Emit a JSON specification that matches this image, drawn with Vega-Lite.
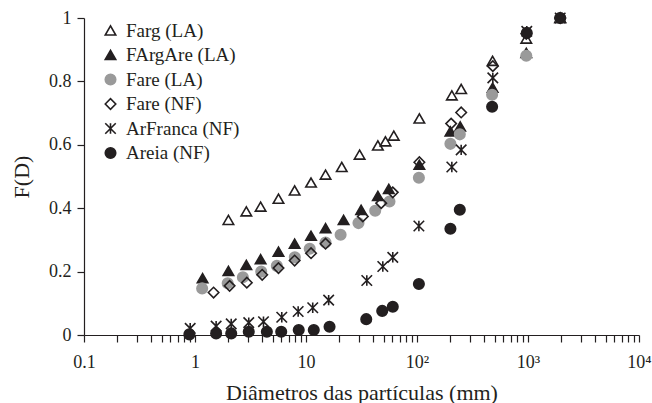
{
  "$schema": "https://vega.github.io/schema/vega-lite/v6.json",
  "autosize": "none",
  "width": 555,
  "height": 317,
  "padding": {"left": 84, "top": 18, "right": 13, "bottom": 68},
  "background": "white",
  "config": {
    "view": {"stroke": null},
    "font": "Liberation Serif",
    "axis": {"labelFont": "Liberation Serif", "titleFont": "Liberation Serif", "labelColor": "#231f20", "titleColor": "#231f20", "domainColor": "#231f20", "tickColor": "#231f20", "grid": false, "labelFontSize": 18, "titleFontSize": 22, "titleFontWeight": "normal", "tickSize": 7, "domainWidth": 1.2, "tickWidth": 1.2}
  },
  "data": {
    "values": [
      {"serie": "Farg (LA)", "d": 2.0, "f": 0.363},
      {"serie": "Farg (LA)", "d": 2.9, "f": 0.39},
      {"serie": "Farg (LA)", "d": 3.9, "f": 0.405},
      {"serie": "Farg (LA)", "d": 5.65, "f": 0.43},
      {"serie": "Farg (LA)", "d": 7.9, "f": 0.456},
      {"serie": "Farg (LA)", "d": 11.1, "f": 0.481},
      {"serie": "Farg (LA)", "d": 15.0, "f": 0.506},
      {"serie": "Farg (LA)", "d": 21.0, "f": 0.53},
      {"serie": "Farg (LA)", "d": 30.4, "f": 0.569},
      {"serie": "Farg (LA)", "d": 44.4, "f": 0.598},
      {"serie": "Farg (LA)", "d": 52.0, "f": 0.611},
      {"serie": "Farg (LA)", "d": 61.8, "f": 0.629},
      {"serie": "Farg (LA)", "d": 105, "f": 0.683},
      {"serie": "Farg (LA)", "d": 206, "f": 0.756},
      {"serie": "Farg (LA)", "d": 250, "f": 0.776},
      {"serie": "Farg (LA)", "d": 480, "f": 0.865},
      {"serie": "Farg (LA)", "d": 965, "f": 0.935},
      {"serie": "Farg (LA)", "d": 1950, "f": 1.0},
      {"serie": "FArgAre (LA)", "d": 1.17, "f": 0.179},
      {"serie": "FArgAre (LA)", "d": 2.0, "f": 0.202},
      {"serie": "FArgAre (LA)", "d": 2.9, "f": 0.221},
      {"serie": "FArgAre (LA)", "d": 3.9, "f": 0.239},
      {"serie": "FArgAre (LA)", "d": 5.65, "f": 0.263},
      {"serie": "FArgAre (LA)", "d": 7.9, "f": 0.288},
      {"serie": "FArgAre (LA)", "d": 11.1, "f": 0.313},
      {"serie": "FArgAre (LA)", "d": 15.0, "f": 0.337},
      {"serie": "FArgAre (LA)", "d": 21.8, "f": 0.363},
      {"serie": "FArgAre (LA)", "d": 31.4, "f": 0.395},
      {"serie": "FArgAre (LA)", "d": 44.4, "f": 0.439},
      {"serie": "FArgAre (LA)", "d": 55.7, "f": 0.461},
      {"serie": "FArgAre (LA)", "d": 105, "f": 0.537},
      {"serie": "FArgAre (LA)", "d": 200, "f": 0.642},
      {"serie": "FArgAre (LA)", "d": 245, "f": 0.658},
      {"serie": "FArgAre (LA)", "d": 480, "f": 0.78},
      {"serie": "FArgAre (LA)", "d": 965, "f": 0.89},
      {"serie": "FArgAre (LA)", "d": 1950, "f": 1.0},
      {"serie": "Fare (LA)", "d": 1.16, "f": 0.147},
      {"serie": "Fare (LA)", "d": 1.97, "f": 0.163},
      {"serie": "Fare (LA)", "d": 2.7, "f": 0.182},
      {"serie": "Fare (LA)", "d": 3.95, "f": 0.2},
      {"serie": "Fare (LA)", "d": 5.46, "f": 0.218},
      {"serie": "Fare (LA)", "d": 7.93, "f": 0.245},
      {"serie": "Fare (LA)", "d": 10.8, "f": 0.272},
      {"serie": "Fare (LA)", "d": 15.0, "f": 0.292},
      {"serie": "Fare (LA)", "d": 20.5, "f": 0.316},
      {"serie": "Fare (LA)", "d": 29.7, "f": 0.353},
      {"serie": "Fare (LA)", "d": 42.0, "f": 0.392},
      {"serie": "Fare (LA)", "d": 56.5, "f": 0.421},
      {"serie": "Fare (LA)", "d": 104, "f": 0.496},
      {"serie": "Fare (LA)", "d": 200, "f": 0.603},
      {"serie": "Fare (LA)", "d": 243, "f": 0.633},
      {"serie": "Fare (LA)", "d": 475, "f": 0.758},
      {"serie": "Fare (LA)", "d": 965, "f": 0.881},
      {"serie": "Fare (LA)", "d": 1950, "f": 1.0},
      {"serie": "Fare (NF)", "d": 1.47, "f": 0.134},
      {"serie": "Fare (NF)", "d": 2.05, "f": 0.155},
      {"serie": "Fare (NF)", "d": 2.93, "f": 0.165},
      {"serie": "Fare (NF)", "d": 4.03, "f": 0.19},
      {"serie": "Fare (NF)", "d": 5.65, "f": 0.211},
      {"serie": "Fare (NF)", "d": 7.9, "f": 0.235},
      {"serie": "Fare (NF)", "d": 11.1, "f": 0.258},
      {"serie": "Fare (NF)", "d": 15.0, "f": 0.288},
      {"serie": "Fare (NF)", "d": 32.5, "f": 0.374},
      {"serie": "Fare (NF)", "d": 47.6, "f": 0.416},
      {"serie": "Fare (NF)", "d": 60.5, "f": 0.45},
      {"serie": "Fare (NF)", "d": 105, "f": 0.545},
      {"serie": "Fare (NF)", "d": 203, "f": 0.667},
      {"serie": "Fare (NF)", "d": 250, "f": 0.702},
      {"serie": "Fare (NF)", "d": 482, "f": 0.848},
      {"serie": "Fare (NF)", "d": 965, "f": 0.95},
      {"serie": "Fare (NF)", "d": 1950, "f": 1.0},
      {"serie": "ArFranca (NF)", "d": 0.905, "f": 0.021},
      {"serie": "ArFranca (NF)", "d": 1.55, "f": 0.028},
      {"serie": "ArFranca (NF)", "d": 2.12, "f": 0.035},
      {"serie": "ArFranca (NF)", "d": 3.05, "f": 0.039},
      {"serie": "ArFranca (NF)", "d": 4.14, "f": 0.042},
      {"serie": "ArFranca (NF)", "d": 6.05, "f": 0.056},
      {"serie": "ArFranca (NF)", "d": 8.5, "f": 0.074},
      {"serie": "ArFranca (NF)", "d": 11.5, "f": 0.086},
      {"serie": "ArFranca (NF)", "d": 16.0, "f": 0.11},
      {"serie": "ArFranca (NF)", "d": 35.3, "f": 0.172},
      {"serie": "ArFranca (NF)", "d": 49.2, "f": 0.216},
      {"serie": "ArFranca (NF)", "d": 60.5, "f": 0.245},
      {"serie": "ArFranca (NF)", "d": 104, "f": 0.344},
      {"serie": "ArFranca (NF)", "d": 206, "f": 0.53},
      {"serie": "ArFranca (NF)", "d": 250, "f": 0.584},
      {"serie": "ArFranca (NF)", "d": 482, "f": 0.811},
      {"serie": "ArFranca (NF)", "d": 975, "f": 0.958},
      {"serie": "ArFranca (NF)", "d": 1950, "f": 1.0},
      {"serie": "Areia (NF)", "d": 0.89, "f": 0.002},
      {"serie": "Areia (NF)", "d": 1.55, "f": 0.005},
      {"serie": "Areia (NF)", "d": 2.12, "f": 0.005},
      {"serie": "Areia (NF)", "d": 3.05, "f": 0.01},
      {"serie": "Areia (NF)", "d": 4.44, "f": 0.01},
      {"serie": "Areia (NF)", "d": 5.98, "f": 0.01},
      {"serie": "Areia (NF)", "d": 8.6, "f": 0.016},
      {"serie": "Areia (NF)", "d": 11.75, "f": 0.016},
      {"serie": "Areia (NF)", "d": 16.3, "f": 0.026},
      {"serie": "Areia (NF)", "d": 34.9, "f": 0.05},
      {"serie": "Areia (NF)", "d": 48.6, "f": 0.076},
      {"serie": "Areia (NF)", "d": 60.5, "f": 0.089},
      {"serie": "Areia (NF)", "d": 104, "f": 0.161},
      {"serie": "Areia (NF)", "d": 200, "f": 0.335},
      {"serie": "Areia (NF)", "d": 243, "f": 0.395},
      {"serie": "Areia (NF)", "d": 475, "f": 0.72},
      {"serie": "Areia (NF)", "d": 975, "f": 0.953},
      {"serie": "Areia (NF)", "d": 1950, "f": 1.0}
    ]
  },
  "mark": {"type": "point", "size": 110, "strokeWidth": 1.6, "opacity": 1},
  "encoding": {
    "x": {
      "field": "d", "type": "quantitative",
      "scale": {"type": "log", "domain": [0.1, 10000], "nice": false},
      "axis": {
        "title": "Diâmetros das partículas (mm)",
        "values": [0.1,0.2,0.3,0.4,0.5,0.6,0.7,0.8,0.9,1,2,3,4,5,6,7,8,9,10,20,30,40,50,60,70,80,90,100,200,300,400,500,600,700,800,900,1000,2000,3000,4000,5000,6000,7000,8000,9000,10000],
        "labelExpr": "datum.value == 0.1 ? '0.1' : datum.value == 1 ? '1' : datum.value == 10 ? '10' : datum.value == 100 ? '10²' : datum.value == 1000 ? '10³' : datum.value == 10000 ? '10⁴' : ''",
        "labelOverlap": false,
        "labelBound": false,
        "labelFlush": false,
        "labelBaseline": "alphabetic",
        "labelPadding": 25,
        "titleBaseline": "alphabetic",
        "titleY": 64
      }
    },
    "y": {
      "field": "f", "type": "quantitative",
      "scale": {"domain": [0, 1], "nice": false},
      "axis": {
        "title": "F(D)",
        "values": [0, 0.2, 0.4, 0.6, 0.8, 1],
        "format": "~g",
        "labelPadding": 6,
        "titleBaseline": "alphabetic",
        "titleX": -56,
        "titleY": 158.5,
        "titleAngle": -90
      }
    },
    "shape": {
      "field": "serie", "type": "nominal",
      "scale": {
        "domain": ["Farg (LA)", "FArgAre (LA)", "Fare (LA)", "Fare (NF)", "ArFranca (NF)", "Areia (NF)"],
        "range": ["triangle-up", "triangle-up", "circle", "diamond", "M-1,-1L1,1M1,-1L-1,1M0,-1L0,1", "circle"]
      },
      "legend": {
        "title": null,
        "orient": "none",
        "legendX": 17,
        "legendY": 3,
        "padding": 0,
        "labelFont": "Liberation Serif",
        "labelFontSize": 19,
        "labelColor": "#231f20",
        "labelOffset": 6,
        "rowPadding": 4.5,
        "symbolSize": 110,
        "symbolStrokeWidth": 1.6
      }
    },
    "fill": {
      "field": "serie", "type": "nominal",
      "scale": {
        "domain": ["Farg (LA)", "FArgAre (LA)", "Fare (LA)", "Fare (NF)", "ArFranca (NF)", "Areia (NF)"],
        "range": ["transparent", "#231f20", "#9a9a9a", "transparent", "transparent", "#231f20"]
      }
    },
    "stroke": {
      "field": "serie", "type": "nominal",
      "scale": {
        "domain": ["Farg (LA)", "FArgAre (LA)", "Fare (LA)", "Fare (NF)", "ArFranca (NF)", "Areia (NF)"],
        "range": ["#231f20", "#231f20", "#9a9a9a", "#231f20", "#231f20", "#231f20"]
      }
    }
  }
}
